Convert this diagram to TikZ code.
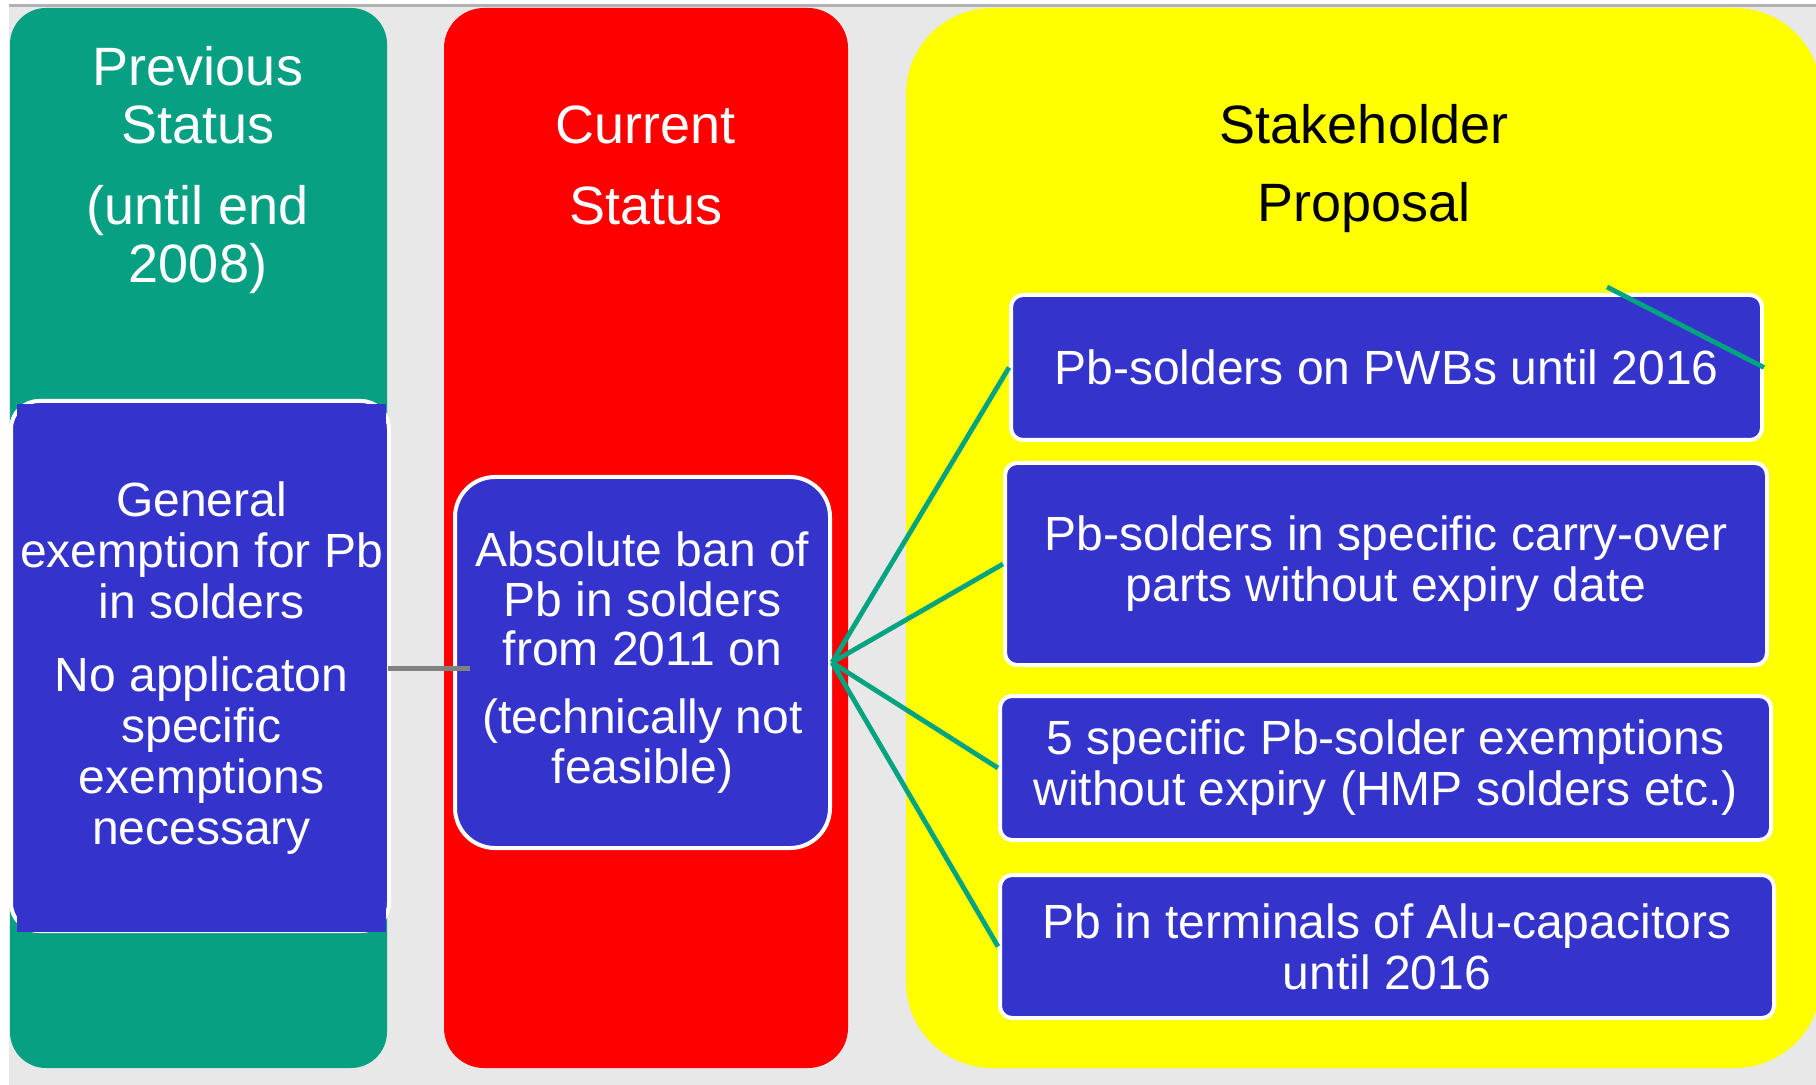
\documentclass[tikz,border=0pt]{standalone}
\usepackage{fontspec}
\setmainfont{Liberation Sans}
\definecolor{bggray}{RGB}{232,232,232}
\definecolor{topgray}{RGB}{178,178,178}
\definecolor{colgreen}{RGB}{8,160,131}
\definecolor{colred}{RGB}{255,0,0}
\definecolor{colyellow}{RGB}{255,255,0}
\definecolor{colblue}{RGB}{52,52,204}
\definecolor{linegreen}{RGB}{0,164,128}
\definecolor{linegray}{RGB}{128,128,128}
\begin{document}
\begin{tikzpicture}[x=0.5pt,y=-0.5pt]
\tikzstyle{every node}+=[inner sep=0pt]
\tikzstyle{title}=[align=center,font=\fontsize{27}{29}\selectfont]
\tikzstyle{item}=[draw=white,line width=2pt,fill=colblue,text=white,align=center,font=\fontsize{24}{25.5}\selectfont,rounded corners=6pt]
\tikzstyle{fan}=[linegreen,line width=2.4pt]
\useasboundingbox (0,0) rectangle (1816,1085);
\fill [white] (0,0) rectangle (1816,1085);
\fill [bggray] (9,7) rectangle (1816,1085);
\fill [topgray] (9,4) rectangle (1816,7);
\fill [colgreen,rounded corners=18pt] (10,8) rectangle (387,1068);
\fill [colred,rounded corners=20pt] (444,8) rectangle (848,1068);
\fill [colyellow,rounded corners=43pt] (906,8) rectangle (1821,1068);
\node [title,text=white] (prevtitle) at (198,170) {Previous\\Status\\[11.5pt](until end\\2008)};
\node [title,text=white] (curtitle) at (646,165) {Current\\[11.5pt]Status};
\node [title] (proptitle) at (1364,169) {Stakeholder\\[10pt]Proposal};
\node [item,rounded corners=14pt,minimum width=189pt,minimum height=265pt] (genback) at (200,666) {};
\node [item,draw=none,rounded corners=0pt,minimum width=184.5pt,minimum height=263.5pt] (genexempt) at (201.5,668) {General\\exemption for Pb\\in solders\\[11pt]No applicaton\\specific\\exemptions\\necessary};
\node [item,rounded corners=20pt,minimum width=187.5pt,minimum height=185.5pt,font=\fontsize{24}{24.8}\selectfont] (banbox) at (642.5,662.5) {Absolute ban of\\Pb in solders\\from 2011 on\\[9pt](technically not\\feasible)};
\node [item,minimum width=375.5pt,minimum height=72.5pt] (pwbbox) at (1386.5,367.5) {Pb-solders on PWBs until 2016};
\node [item,minimum width=381pt,minimum height=101pt] (carrybox) at (1386,564) {Pb-solders in specific carry-over\\parts without expiry date};
\node [item,minimum width=385.5pt,minimum height=72pt] (hmpbox) at (1385.5,768) {5 specific Pb-solder exemptions\\without expiry (HMP solders etc.)};
\node [item,minimum width=387pt,minimum height=71.5pt] (alubox) at (1387,946.5) {Pb in terminals of Alu-capacitors\\until 2016};
\draw [linegray,line width=2.5pt] (genexempt.east) -- ([xshift=8.5pt]genexempt.east -| banbox.west);
\foreach \b in {pwbbox,carrybox,hmpbox,alubox}
  \draw [fan] (banbox.east) -- (\b.west);
\coordinate (pwbstub) at (1607,287);
\draw [fan] (pwbstub) -- (pwbbox.east);
\end{tikzpicture}
\end{document}
